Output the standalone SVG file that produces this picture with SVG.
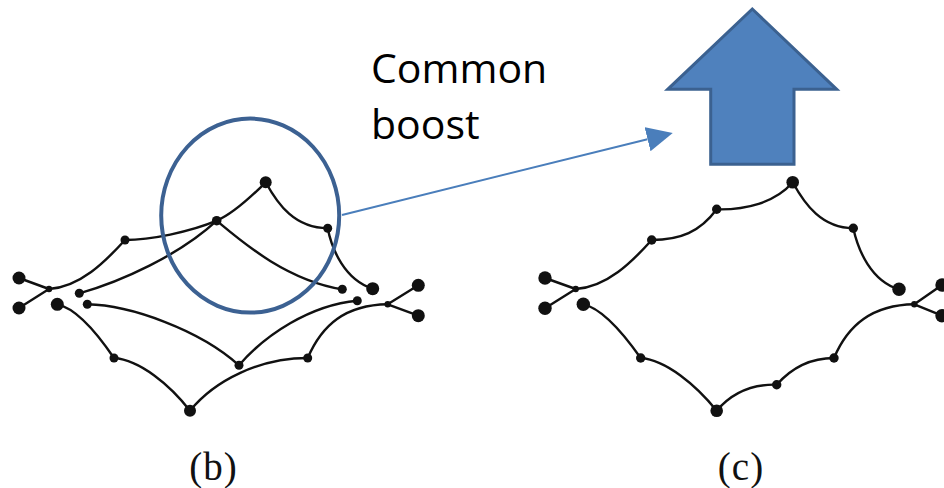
<svg xmlns="http://www.w3.org/2000/svg" width="944" height="488" viewBox="0 0 944 488">
<defs>
<style>
.e{fill:none;stroke:#111;stroke-width:2.4;stroke-linecap:round}
.big{fill:#111}
.mid{fill:#111}
.jn{fill:#111}
.lbl{font-family:"Open Sans","Liberation Sans",sans-serif;font-size:41px;fill:#000}
.cap{font-family:"Liberation Serif","DejaVu Serif",serif;font-size:39px;fill:#111;text-anchor:middle;letter-spacing:1px}
</style>
<marker id="ah" markerUnits="userSpaceOnUse" markerWidth="27" markerHeight="26" refX="0" refY="12.5" orient="auto">
<path d="M0,0 L26,12.5 L0,25 z" fill="#4a7ebb"/>
</marker>
</defs>
<rect width="944" height="488" fill="#fff"/>

<g id="connectors">
<!-- graph b -->
<path class="e" d="M19,278 L49,289"/>
<path class="e" d="M19,308 L49,289"/>
<path class="e" d="M49,289 C80,287 105,262 125,240"/>
<path class="e" d="M125,240 C150,240 190,232 216.7,220.7 C230,215 250,198 265.7,182.3"/>
<path class="e" d="M265.7,182.3 C278,205 295,228 327.7,228.3"/>
<path class="e" d="M327.7,228.3 C332,250 345,280 372.7,288.7"/>
<path class="e" d="M216.7,220.7 C240,240 285,280 342.3,289.3"/>
<path class="e" d="M79.3,293.3 C120,282 180,255 216.7,220.7"/>
<path class="e" d="M57.3,304.3 C75,308 95,330 114,358"/>
<path class="e" d="M114,358 C140,360 170,385 190,410.7"/>
<path class="e" d="M190,410.7 C215,380 260,358 307.7,358"/>
<path class="e" d="M307.7,358 C322,325 345,305 387.7,304.3"/>
<path class="e" d="M387.7,304.3 L418.3,285.3"/>
<path class="e" d="M387.7,304.3 L418.3,315.7"/>
<path class="e" d="M87.3,304.3 C130,305 200,330 239,365.3"/>
<path class="e" d="M239,365.3 C265,335 310,305 357.3,300.7"/>
<!-- graph c -->
<path class="e" d="M545,278 L575.7,289"/>
<path class="e" d="M545,308.3 L575.7,289"/>
<path class="e" d="M575.7,289 C607,287 632,262 651.7,240"/>
<path class="e" d="M651.7,240 C680,240 700,232 716.7,209.3"/>
<path class="e" d="M716.7,209.3 C745,210 775,203 792.7,182.3"/>
<path class="e" d="M792.7,182.3 C805,205 822,228 853.3,228.3"/>
<path class="e" d="M853.3,228.3 C858,250 871,281 899,289.3"/>
<path class="e" d="M583.3,304.3 C601,308 621,330 640.7,358"/>
<path class="e" d="M640.7,358 C666,360 696,385 716.7,410.7"/>
<path class="e" d="M716.7,410.7 C730,395 750,384 776.7,384.7"/>
<path class="e" d="M776.7,384.7 C788,372 805,358 834,358"/>
<path class="e" d="M834,358 C848,325 872,305 914.3,304.3"/>
<path class="e" d="M914.3,304.3 L942,285"/>
<path class="e" d="M914.3,304.3 L942,315.7"/>
<!-- boost arrow -->
<line x1="342" y1="215" x2="647.5" y2="139.2" stroke="#4a7ebb" stroke-width="2" marker-end="url(#ah)"/>
</g>

<g id="highlight-circle">
<ellipse cx="250.2" cy="215.6" rx="89" ry="97" fill="none" stroke="#3c6192" stroke-width="4"/>
</g>

<g id="up-arrow">
<polygon points="752.3,9 836.7,89.3 794,89.3 794,164.3 710.7,164.3 710.7,89.3 667.7,89.3" fill="#4f81bd" stroke="#3b6190" stroke-width="3" stroke-linejoin="miter"/>
</g>

<g id="label-common-boost">
<text class="lbl" x="371" y="83">Common</text>
<text class="lbl" x="371" y="139">boost</text>
</g>

<!-- nodes of graph b -->
<g id="b-n1"><circle class="big" cx="19" cy="278" r="6.5"/></g>
<g id="b-n2"><circle class="big" cx="19" cy="308" r="6.5"/></g>
<g id="b-j1"><circle class="jn" cx="49" cy="289" r="3.2"/></g>
<g id="b-n3"><circle class="mid" cx="125" cy="240" r="4.5"/></g>
<g id="b-n4"><circle class="mid" cx="216.7" cy="220.7" r="4.8"/></g>
<g id="b-n5"><circle class="big" cx="265.7" cy="182.3" r="6"/></g>
<g id="b-n6"><circle class="mid" cx="327.7" cy="228.3" r="4.5"/></g>
<g id="b-n7"><circle class="big" cx="372.7" cy="288.7" r="6.5"/></g>
<g id="b-n8"><circle class="mid" cx="342.3" cy="289.3" r="4.5"/></g>
<g id="b-n9"><circle class="mid" cx="79.3" cy="293.3" r="4.5"/></g>
<g id="b-n10"><circle class="big" cx="57.3" cy="304.3" r="6.5"/></g>
<g id="b-n11"><circle class="mid" cx="87.3" cy="304.3" r="4.5"/></g>
<g id="b-n12"><circle class="mid" cx="114" cy="358" r="4.5"/></g>
<g id="b-n13"><circle class="big" cx="190" cy="410.7" r="6"/></g>
<g id="b-n14"><circle class="mid" cx="239" cy="365.3" r="4.5"/></g>
<g id="b-n15"><circle class="mid" cx="307.7" cy="358" r="4.5"/></g>
<g id="b-n16"><circle class="mid" cx="357.3" cy="300.7" r="4.5"/></g>
<g id="b-j2"><circle class="jn" cx="387.7" cy="304.3" r="3.2"/></g>
<g id="b-n17"><circle class="big" cx="418.3" cy="285.3" r="6.5"/></g>
<g id="b-n18"><circle class="big" cx="418.3" cy="315.7" r="6.5"/></g>

<!-- nodes of graph c -->
<g id="c-n1"><circle class="big" cx="545" cy="278" r="6.7"/></g>
<g id="c-n2"><circle class="big" cx="545" cy="308.3" r="6.7"/></g>
<g id="c-j1"><circle class="jn" cx="575.7" cy="289" r="3.2"/></g>
<g id="c-n3"><circle class="big" cx="583.3" cy="304.3" r="6.7"/></g>
<g id="c-n4"><circle class="mid" cx="651.7" cy="240" r="4.7"/></g>
<g id="c-n5"><circle class="mid" cx="716.7" cy="209.3" r="4.7"/></g>
<g id="c-n6"><circle class="big" cx="792.7" cy="182.3" r="6.3"/></g>
<g id="c-n7"><circle class="mid" cx="853.3" cy="228.3" r="4.7"/></g>
<g id="c-n8"><circle class="big" cx="899" cy="289.3" r="6.7"/></g>
<g id="c-n9"><circle class="mid" cx="640.7" cy="358" r="4.7"/></g>
<g id="c-n10"><circle class="big" cx="716.7" cy="410.7" r="6.3"/></g>
<g id="c-n11"><circle class="mid" cx="776.7" cy="384.7" r="4.7"/></g>
<g id="c-n12"><circle class="mid" cx="834" cy="358" r="4.7"/></g>
<g id="c-j2"><circle class="jn" cx="914.3" cy="304.3" r="3.2"/></g>
<g id="c-n13"><circle class="big" cx="942" cy="285" r="6.7"/></g>
<g id="c-n14"><circle class="big" cx="942" cy="315.7" r="6.7"/></g>

<g id="captions">
<text class="cap" x="213.5" y="480">(b)</text>
<text class="cap" x="741" y="480">(c)</text>
</g>
</svg>
